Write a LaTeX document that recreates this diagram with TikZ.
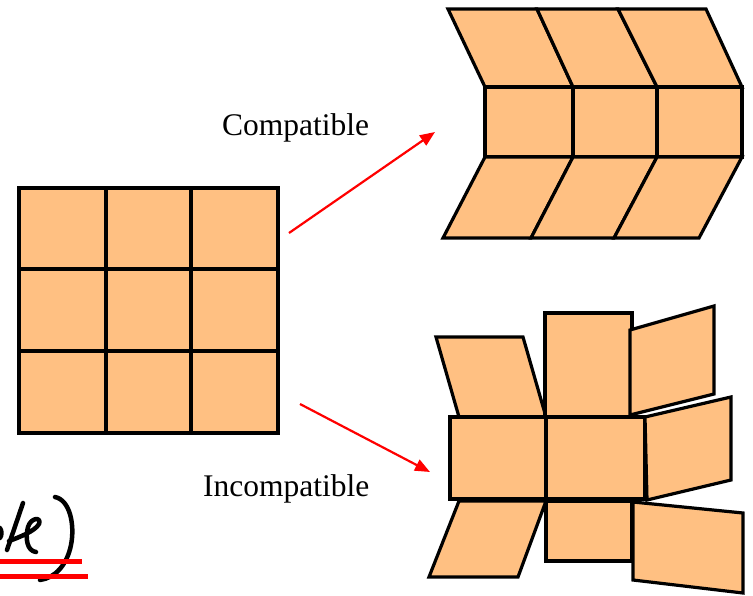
\documentclass[tikz,border=0pt]{standalone}
\usepackage{fontspec}
\setmainfont{Liberation Serif}
\usetikzlibrary{arrows.meta}
\definecolor{tile}{RGB}{255,192,130}
\definecolor{arrowred}{RGB}{255,0,0}
\tikzset{
  tileshape/.style={fill=tile,draw=black,line width=3.2pt,line join=miter},
  redarrow/.style={draw=arrowred,line width=2.2pt,-{Triangle[length=15pt,width=12pt]}},
  label/.style={font=\fontsize{31.5}{38}\selectfont,inner sep=0pt,anchor=base west},
  ink/.style={draw=black,line width=4.5pt,line cap=round,line join=round},
  redline/.style={draw=arrowred,line width=5pt}
}
\begin{document}
\begin{tikzpicture}[x=1pt,y=-1pt]
\useasboundingbox (0,0) rectangle (753,595);

% left square grid
\fill[tile] (19,188) rectangle (278,433);
\draw[line width=3.4pt] (19,188) rectangle (278,433);
\foreach \x in {106,191} \draw[line width=3.4pt] (\x,188) -- (\x,433);
\foreach \y in {269,351} \draw[line width=3.4pt] (19,\y) -- (278,\y);

% compatible deformation
\foreach \a/\b/\c/\d in {448/537/573/485, 537/618/657/573, 618/706/742/657}
  \draw[tileshape] (\a,9) -- (\b,9) -- (\c,87) -- (\d,87) -- cycle;
\foreach \a/\b in {485/573, 573/657, 657/742}
  \draw[tileshape] (\a,87) rectangle (\b,157);
\foreach \a/\b/\c/\d in {485/573/531/443, 573/657/614/531, 657/742/699/614}
  \draw[tileshape] (\a,157) -- (\b,157) -- (\c,238) -- (\d,238) -- cycle;

% incompatible deformation
\draw[tileshape] (436,337) -- (523,337) -- (546,417) -- (459,417) -- cycle;
\draw[tileshape] (545,313) rectangle (632,417);
\draw[tileshape] (630,330) -- (714,306) -- (714,394) -- (630,415) -- cycle;
\draw[tileshape] (450,417) rectangle (546,499);
\draw[tileshape] (546,417) rectangle (645,499);
\draw[tileshape] (645,417) -- (731,397) -- (731,480) -- (647,500) -- cycle;
\draw[tileshape] (459,501) -- (546,501) -- (518,577) -- (429,577) -- cycle;
\draw[tileshape] (546,501) rectangle (632,561);
\draw[tileshape] (633,502) -- (743,513) -- (743,593) -- (633,580) -- cycle;

% labels
\node[label] (compat) at (222,135) {Compatible};
\node[label] (incompat) at (203,496) {Incompatible};

% arrows
\coordinate (c1) at (289,233);
\coordinate (c2) at (435,132);
\coordinate (i1) at (300,404);
\coordinate (i2) at (430,472);
\draw[redarrow] (c1) -- (c2);
\draw[redarrow] (i1) -- (i2);

% handwriting fragment
\draw[ink] (0,528) .. controls (2,531) and (2,535) .. (0,538);
\draw[ink] (23,503) -- (7,550);
\draw[ink] (9,541) .. controls (20,537) and (35,531) .. (39,524)
  .. controls (42,517) and (31,517) .. (28,527)
  .. controls (25,538) and (27,551) .. (36,552);
\draw[ink] (55,497) .. controls (70,500) and (75,525) .. (71,545)
  .. controls (67,565) and (55,578) .. (40,580);
\draw[redline] (0,561) -- (82,561);
\draw[redline] (0,576) -- (88,576);
\end{tikzpicture}
\end{document}
